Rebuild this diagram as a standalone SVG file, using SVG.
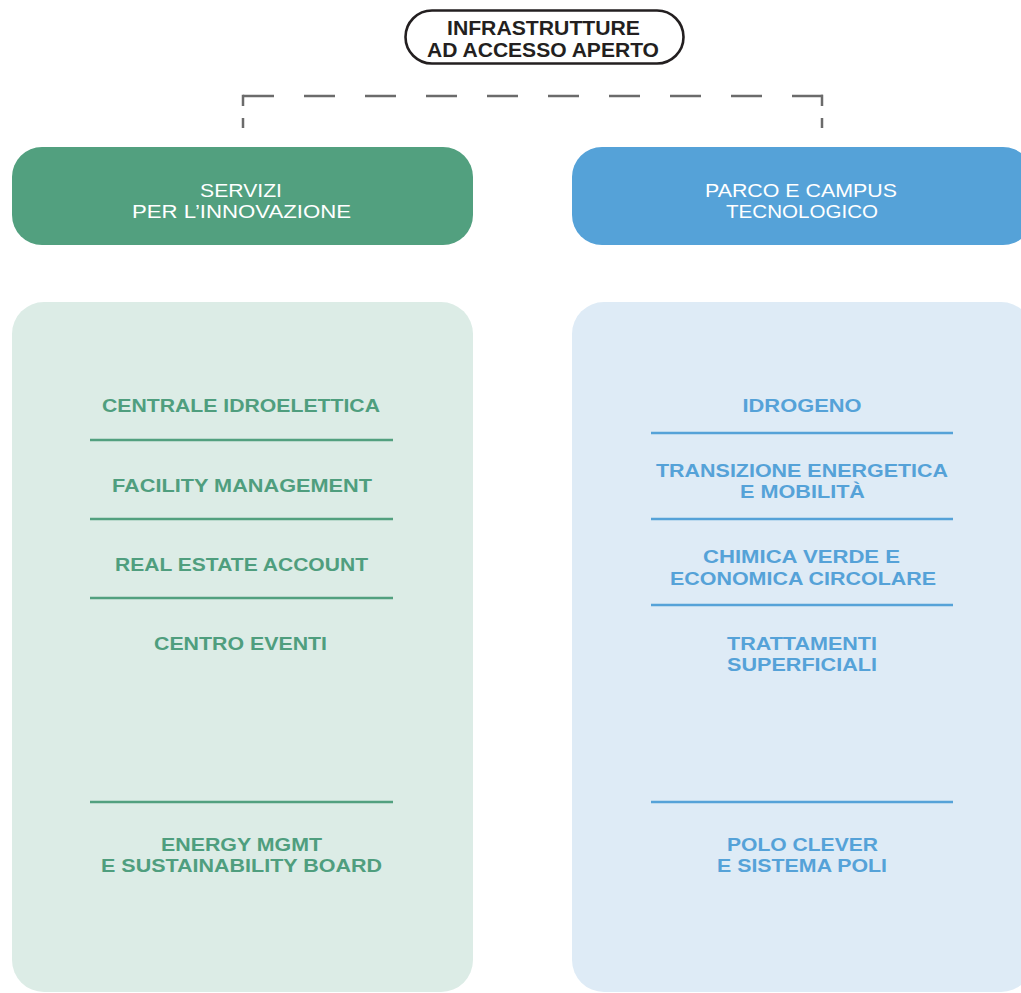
<svg xmlns="http://www.w3.org/2000/svg" width="1021" height="993" viewBox="0 0 1021 993">
<style>
text{font-family:"Liberation Sans",Arial,sans-serif;text-anchor:middle}
.top{font-size:20px;font-weight:bold;fill:#231f20}
.hd{font-size:18.5px;fill:#ffffff}
.gi{font-size:18.5px;font-weight:bold;fill:#4f9e7e}
.bi{font-size:18.5px;font-weight:bold;fill:#55a2d8}
.gl{stroke:#52a07f;stroke-width:2.6}
.bl{stroke:#55a2d8;stroke-width:2.6}
.dash{fill:none;stroke:#6b6b6b;stroke-width:2.5}
</style>
<rect width="1021" height="993" fill="#ffffff"/>
<g id="connectors">
<line class="dash" x1="243" y1="96" x2="823" y2="96" stroke-dasharray="31 30"/>
<line class="dash" x1="243" y1="94.8" x2="243" y2="128" stroke-dasharray="11.2 12"/>
<line class="dash" x1="822" y1="94.8" x2="822" y2="128" stroke-dasharray="11.2 12"/>
</g>
<g id="top">
<rect x="405.5" y="10.5" width="278" height="53" rx="26.5" fill="#ffffff" stroke="#231f20" stroke-width="2.6"/>
<text class="top" x="543.5" y="35" textLength="193" lengthAdjust="spacingAndGlyphs">INFRASTRUTTURE</text>
<text class="top" x="543" y="57" textLength="232" lengthAdjust="spacingAndGlyphs">AD ACCESSO APERTO</text>
</g>
<g id="servizi">
<rect x="12" y="147" width="461" height="98" rx="30" fill="#52a07f"/>
<text class="hd" x="241" y="197" textLength="82" lengthAdjust="spacingAndGlyphs">SERVIZI</text>
<text class="hd" x="241.5" y="218" textLength="219" lengthAdjust="spacingAndGlyphs">PER L’INNOVAZIONE</text>
</g>
<g id="parco">
<rect x="572" y="147" width="461" height="98" rx="30" fill="#55a2d8"/>
<text class="hd" x="801" y="197" textLength="192" lengthAdjust="spacingAndGlyphs">PARCO E CAMPUS</text>
<text class="hd" x="802" y="218" textLength="152" lengthAdjust="spacingAndGlyphs">TECNOLOGICO</text>
</g>
<g id="servizi-list">
<rect x="12" y="302" width="461" height="690" rx="32" fill="#dcece6"/>
<text class="gi" x="241" y="412" textLength="278" lengthAdjust="spacingAndGlyphs">CENTRALE IDROELETTICA</text>
<line class="gl" x1="90" y1="440" x2="393" y2="440"/>
<text class="gi" x="242" y="492" textLength="260" lengthAdjust="spacingAndGlyphs">FACILITY MANAGEMENT</text>
<line class="gl" x1="90" y1="519" x2="393" y2="519"/>
<text class="gi" x="241.5" y="571" textLength="253" lengthAdjust="spacingAndGlyphs">REAL ESTATE ACCOUNT</text>
<line class="gl" x1="90" y1="598" x2="393" y2="598"/>
<text class="gi" x="240.5" y="650" textLength="173" lengthAdjust="spacingAndGlyphs">CENTRO EVENTI</text>
<line class="gl" x1="90" y1="802" x2="393" y2="802"/>
<text class="gi" x="241.5" y="851" textLength="161" lengthAdjust="spacingAndGlyphs">ENERGY MGMT</text>
<text class="gi" x="241.5" y="872" textLength="281" lengthAdjust="spacingAndGlyphs">E SUSTAINABILITY BOARD</text>
</g>
<g id="parco-list">
<rect x="572" y="302" width="461" height="690" rx="32" fill="#deebf6"/>
<text class="bi" x="802" y="412" textLength="119" lengthAdjust="spacingAndGlyphs">IDROGENO</text>
<line class="bl" x1="651" y1="433" x2="953" y2="433"/>
<text class="bi" x="802" y="477" textLength="292" lengthAdjust="spacingAndGlyphs">TRANSIZIONE ENERGETICA</text>
<text class="bi" x="802.5" y="498" textLength="125" lengthAdjust="spacingAndGlyphs">E MOBILITÀ</text>
<line class="bl" x1="651" y1="519" x2="953" y2="519"/>
<text class="bi" x="801.5" y="563" textLength="197" lengthAdjust="spacingAndGlyphs">CHIMICA VERDE E</text>
<text class="bi" x="803" y="585" textLength="266" lengthAdjust="spacingAndGlyphs">ECONOMICA CIRCOLARE</text>
<line class="bl" x1="651" y1="605" x2="953" y2="605"/>
<text class="bi" x="802" y="650" textLength="150" lengthAdjust="spacingAndGlyphs">TRATTAMENTI</text>
<text class="bi" x="802" y="671" textLength="150" lengthAdjust="spacingAndGlyphs">SUPERFICIALI</text>
<line class="bl" x1="651" y1="802" x2="953" y2="802"/>
<text class="bi" x="802.5" y="851" textLength="151" lengthAdjust="spacingAndGlyphs">POLO CLEVER</text>
<text class="bi" x="802" y="872" textLength="170" lengthAdjust="spacingAndGlyphs">E SISTEMA POLI</text>
</g>
</svg>
